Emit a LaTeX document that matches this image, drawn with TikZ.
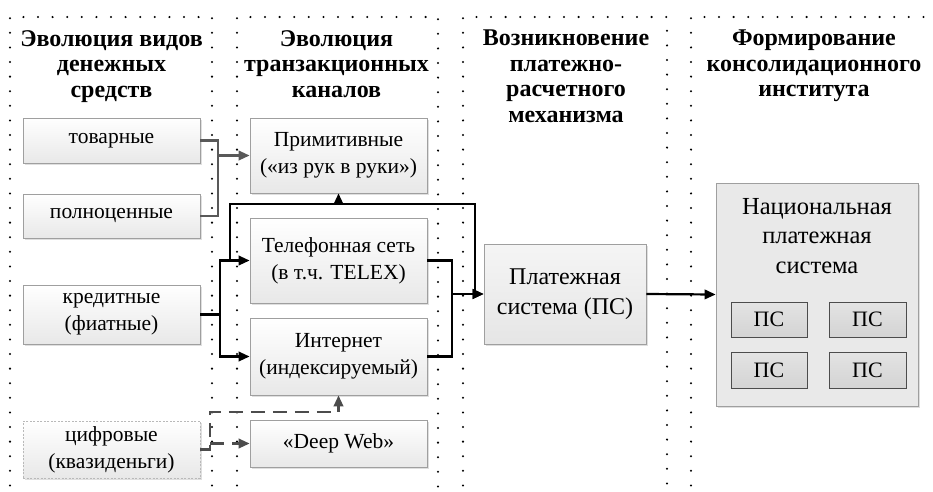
\documentclass[tikz,border=0pt]{standalone}
\usepackage{fontspec}
\setmainfont{Liberation Serif}
\usetikzlibrary{arrows.meta,shadows}

\tikzset{
  colframe/.style={draw=black, line width=2.3pt, line cap=round, dash pattern=on 0pt off 14.6pt},
  hdr/.style={font=\fontsize{24}{25.5}\selectfont\bfseries, align=center, inner sep=0pt, anchor=north},
  box/.style={draw=gray!75, line width=0.8pt, top color=white, bottom color=gray!18,
              inner sep=0pt, align=center, font=\fontsize{21.5}{27}\selectfont,
              drop shadow={shadow xshift=1.5pt, shadow yshift=-1.5pt, opacity=0.25}},
  dbox/.style={box, draw=gray!55, dashed, dash pattern=on 2pt off 1.5pt},
  bigbox/.style={box, top color=gray!8, bottom color=gray!20, font=\fontsize{24}{29.5}\selectfont},
  npsbox/.style={draw=gray!75, line width=0.8pt, fill=gray!17, inner sep=0pt,
              drop shadow={shadow xshift=1.5pt, shadow yshift=-1.5pt, opacity=0.25}},
  psbox/.style={draw=gray!60!black, line width=0.8pt, top color=gray!22, bottom color=gray!34,
              inner sep=0pt, font=\fontsize{22}{26}\selectfont,
              drop shadow={shadow xshift=1pt, shadow yshift=-1pt, opacity=0.2}},
  link/.style={line width=2.2pt, black},
  glink/.style={line width=2.2pt, black!65},
  dlink/.style={line width=2.2pt, black!70, dash pattern=on 14pt off 8pt},
  tip/.style={-{Triangle[length=11pt,width=9.5pt]}}
}

\begin{document}
\begin{tikzpicture}[x=1pt,y=-1pt]
\useasboundingbox (0,0) rectangle (933,491);
\clip (0,0) rectangle (933,491);
\fill[white] (0,0) rectangle (933,491);

% dotted column frames
\draw[colframe] (10,500) -- (10,17) -- (212,17) -- (212,500);
\draw[colframe] (237,500) -- (237,17) -- (438,17) -- (438,500);
\draw[colframe] (463,500) -- (463,17) -- (667,17) -- (667,500);
\draw[colframe] (691,500) -- (691,17) -- (950,17);

% column headings
\node[hdr] (h1) at (111.5,30) {Эволюция видов\\денежных\\средств};
\node[hdr] (h2) at (336.5,30) {Эволюция\\транзакционных\\каналов};
\node[hdr] (h3) at (566,30) {Возникновение\\платежно-\\расчетного\\механизма};
\node[hdr] (h4) at (814,30) {Формирование\\консолидационного\\института};

% kinds of money
\node[box, minimum width=177, minimum height=45] (tov)  at (111.5,140.5) {товарные};
\node[box, minimum width=177, minimum height=44] (poln) at (111.5,216) {полноценные};
\node[box, minimum width=177, minimum height=59] (kred) at (111.5,314.5) {кредитные\\(фиатные)};
\node[dbox, minimum width=177, minimum height=57] (cifr) at (111.5,449.5) {цифровые\\(квазиденьги)};

% transaction channels
\node[box, minimum width=177, minimum height=75] (prim) at (338.5,155.5) {Примитивные\\(«из рук в руки»)};
\node[box, minimum width=177, minimum height=85] (tel)  at (338.5,260.5) {Телефонная сеть\\(в т.ч. TELEX)};
\node[box, minimum width=177, minimum height=77] (inet) at (338.5,356.5) {Интернет\\(индексируемый)};
\node[box, minimum width=177, minimum height=47] (deep) at (338.5,443.5) {«Deep Web»};

% payment system
\node[bigbox, minimum width=162, minimum height=100] (ps) at (565,294) {Платежная\\система (ПС)};

% national payment system
\node[npsbox, minimum width=202, minimum height=223] (nps) at (817,294.5) {};
\node[align=center, inner sep=0pt, anchor=north, font=\fontsize{24.5}{29.5}\selectfont] (npst) at (817,198) {Национальная\\платежная\\система};
\node[psbox, minimum width=76, minimum height=35] (ps1) at (769,319.5) {ПС};
\node[psbox, minimum width=77, minimum height=35] (ps2) at (867.5,319.5) {ПС};
\node[psbox, minimum width=76, minimum height=36] (ps3) at (769,370) {ПС};
\node[psbox, minimum width=77, minimum height=36] (ps4) at (867.5,370) {ПС};

% junction points
\coordinate (ja) at (218,0);
\coordinate (jb) at (220,0);
\coordinate (jc) at (230,204);
\coordinate (jd) at (475,204);
\coordinate (je) at (452,0);
\coordinate (jf) at (210,412);

% commodity and full-value money -> primitive channel
\draw[glink] (tov.east) -| (ja |- poln.east) -- (poln.east);
\draw[glink, tip] (ja |- prim.west) -- (prim.west);

% credit money -> telephone network and internet
\draw[link] (kred.east) -- (jb |- kred.east);
\draw[link, tip] (jb |- kred.east) |- (tel.west);
\draw[link, tip] (jb |- kred.east) |- (inet.west);

% bypass line over the channels
\draw[link, tip] (jc |- tel.west) -- (jc) -- (jd) |- (ps.west);
\draw[link, tip] (prim.south |- jc) -- (prim.south);

% channels -> payment system
\draw[link] (tel.east) -| (je |- ps.west);
\draw[link] (inet.east) -| (je |- ps.west);
\draw[link, tip] (je |- ps.west) -- (ps.west);

% payment system -> national payment system
\draw[link, tip] (ps.east) -- (nps.west);

% digital money (dashed)
\draw[dlink, tip] (cifr.east) -| (jf) -| (inet.south);
\draw[dlink, tip] (jf |- deep.west) -- (deep.west);
\end{tikzpicture}
\end{document}
